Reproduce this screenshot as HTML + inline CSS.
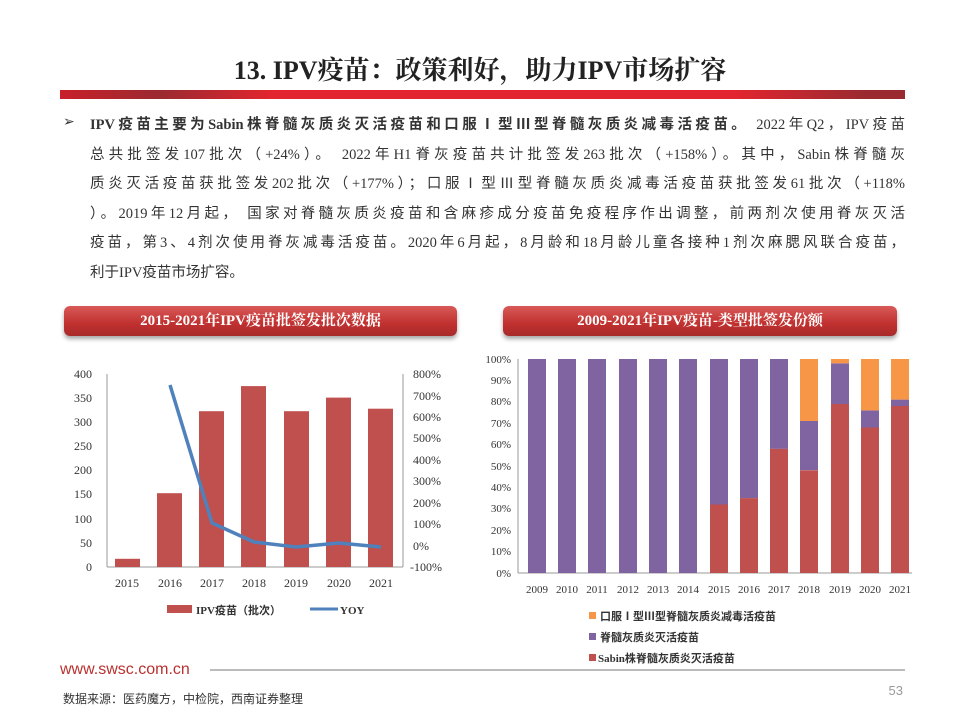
<!DOCTYPE html>
<html><head><meta charset="utf-8"><style>
body{margin:0;background:#fff;}
#p{position:relative;width:960px;height:720px;overflow:hidden;background:#fff;font-family:"Liberation Serif","Noto Serif CJK SC",serif;}
.t{position:absolute;left:0;width:960px;top:50px;text-align:center;font-size:26px;font-weight:bold;color:#222;}
.bar{position:absolute;left:60px;width:845px;top:90px;height:9px;background:linear-gradient(90deg,#c8202a,#9b2a30 12%,#e2252f 25%,#e2252f 80%,#9b2a30 95%);}
.ln{position:absolute;left:90px;width:815px;font-size:14.5px;color:#333;white-space:nowrap;text-align:justify;text-align-last:justify;font-family:"Liberation Serif","Noto Sans CJK SC",sans-serif;}
.hb{position:absolute;height:30px;border-radius:6px;background:linear-gradient(#d85a58,#c0302f 60%,#a82a2a);box-shadow:0 3px 4px rgba(0,0,0,.35);color:#fff;font-weight:bold;font-size:15px;text-align:center;line-height:30px;}
</style></head><body><div id="p">
<div class="t">13. IPV疫苗：政策利好，助力IPV市场扩容</div>
<div class="bar"></div>
<div style="position:absolute;left:63px;top:114px;font-size:14px;color:#333;">➢</div>
<div class="ln" style="top:113px"><b>IPV疫苗主要为Sabin株脊髓灰质炎灭活疫苗和口服Ⅰ型Ⅲ型脊髓灰质炎减毒活疫苗。</b> 2022年Q2，IPV疫苗</div>
<div class="ln" style="top:143px">总共批签发107批次（+24%）。 2022年H1脊灰疫苗共计批签发263批次（+158%）。其中，Sabin株脊髓灰</div>
<div class="ln" style="top:172px">质炎灭活疫苗获批签发202批次（+177%）；口服Ⅰ型Ⅲ型脊髓灰质炎减毒活疫苗获批签发61批次（+118%</div>
<div class="ln" style="top:202px">）。2019年12月起， 国家对脊髓灰质炎疫苗和含麻疹成分疫苗免疫程序作出调整，前两剂次使用脊灰灭活</div>
<div class="ln" style="top:231px">疫苗，第3、4剂次使用脊灰减毒活疫苗。2020年6月起，8月龄和18月龄儿童各接种1剂次麻腮风联合疫苗，</div>
<div class="ln" style="top:261px;text-align-last:left">利于IPV疫苗市场扩容。</div>
<div class="hb" style="left:64px;top:306px;width:393px;">2015-2021年IPV疫苗批签发批次数据</div>
<div class="hb" style="left:503px;top:306px;width:394px;">2009-2021年IPV疫苗-类型批签发份额</div>
<svg style="position:absolute;left:0;top:0" width="960" height="720" font-family="Liberation Serif, Noto Sans CJK SC, serif" font-size="12" fill="#333">
<g stroke="#999" stroke-width="1">
<line x1="107" y1="374" x2="107" y2="567"/><line x1="107" y1="567" x2="403" y2="567"/><line x1="403" y1="374" x2="403" y2="567"/>
<line x1="518" y1="359" x2="518" y2="573"/><line x1="518" y1="573" x2="912" y2="573"/>
</g>
<g fill="#c0504d">
<rect x="115" y="558.8" width="25" height="8.2"/>
<rect x="157" y="493.2" width="25" height="73.8"/>
<rect x="199" y="411.2" width="25" height="155.8"/>
<rect x="241" y="386.1" width="25" height="180.9"/>
<rect x="284" y="411.2" width="25" height="155.8"/>
<rect x="326" y="397.6" width="25" height="169.4"/>
<rect x="368" y="408.7" width="25" height="158.3"/>
</g>
<polyline fill="none" stroke="#4f81bd" stroke-width="3.5" points="170,385 212,523 254,542 296,547 339,543 381,547"/>
<g text-anchor="end">
<text x="92" y="378">400</text><text x="92" y="402">350</text><text x="92" y="426">300</text><text x="92" y="450">250</text><text x="92" y="474">200</text><text x="92" y="498">150</text><text x="92" y="523">100</text><text x="92" y="547">50</text><text x="92" y="571">0</text>
</g>
<g>
<text x="413" y="378">800%</text><text x="413" y="400">700%</text><text x="413" y="421">600%</text><text x="413" y="442">500%</text><text x="413" y="464">400%</text><text x="413" y="485">300%</text><text x="413" y="507">200%</text><text x="413" y="528">100%</text><text x="413" y="550">0%</text><text x="410" y="571">-100%</text>
</g>
<g text-anchor="middle">
<text x="127" y="587">2015</text><text x="170" y="587">2016</text><text x="212" y="587">2017</text><text x="254" y="587">2018</text><text x="296" y="587">2019</text><text x="339" y="587">2020</text><text x="381" y="587">2021</text>
</g>
<rect x="167" y="605" width="25" height="8" fill="#c0504d"/>
<text x="196" y="614" font-weight="bold" font-size="11">IPV疫苗（批次）</text>
<line x1="310" y1="609" x2="338" y2="609" stroke="#4f81bd" stroke-width="3"/>
<text x="340" y="614" font-weight="bold" font-size="11">YOY</text>
<!-- right chart -->
<g id="r"></g>
<g text-anchor="end" font-size="11">
<text x="511" y="363">100%</text><text x="511" y="384">90%</text><text x="511" y="405">80%</text><text x="511" y="427">70%</text><text x="511" y="448">60%</text><text x="511" y="470">50%</text><text x="511" y="491">40%</text><text x="511" y="512">30%</text><text x="511" y="534">20%</text><text x="511" y="555">10%</text><text x="511" y="577">0%</text>
</g>
<g fill="#8064a2">
<rect x="528" y="359" width="18" height="214"/><rect x="558" y="359" width="18" height="214"/><rect x="588" y="359" width="18" height="214"/><rect x="619" y="359" width="18" height="214"/><rect x="649" y="359" width="18" height="214"/><rect x="679" y="359" width="18" height="214"/>
<rect x="710" y="359" width="18" height="145.5"/><rect x="740" y="359" width="18" height="139.1"/><rect x="770" y="359" width="18" height="89.9"/>
<rect x="800" y="421" width="18" height="49.2"/><rect x="831" y="363.3" width="18" height="40.7"/><rect x="861" y="410.4" width="18" height="17.1"/><rect x="891" y="399.6" width="18" height="6.4"/>
</g>
<g fill="#c0504d">
<rect x="710" y="504.5" width="18" height="68.5"/><rect x="740" y="498.1" width="18" height="74.9"/><rect x="770" y="448.9" width="18" height="124.1"/>
<rect x="800" y="470.3" width="18" height="102.7"/><rect x="831" y="404" width="18" height="169"/><rect x="861" y="427.5" width="18" height="145.5"/><rect x="891" y="406" width="18" height="167"/>
</g>
<g fill="#f79646">
<rect x="800" y="359" width="18" height="62"/><rect x="831" y="359" width="18" height="4.3"/><rect x="861" y="359" width="18" height="51.4"/><rect x="891" y="359" width="18" height="40.6"/>
</g>
<g text-anchor="middle" font-size="11">
<text x="537" y="593">2009</text><text x="567" y="593">2010</text><text x="597" y="593">2011</text><text x="628" y="593">2012</text><text x="658" y="593">2013</text><text x="688" y="593">2014</text><text x="719" y="593">2015</text><text x="749" y="593">2016</text><text x="779" y="593">2017</text><text x="809" y="593">2018</text><text x="840" y="593">2019</text><text x="870" y="593">2020</text><text x="900" y="593">2021</text>
</g>
<rect x="589" y="612" width="7" height="7" fill="#f79646"/><text x="600" y="620" font-weight="bold" font-size="11">口服Ⅰ型Ⅲ型脊髓灰质炎减毒活疫苗</text>
<rect x="589" y="633" width="7" height="7" fill="#8064a2"/><text x="600" y="641" font-weight="bold" font-size="11">脊髓灰质炎灭活疫苗</text>
<rect x="589" y="654" width="7" height="7" fill="#c0504d"/><text x="598" y="662" font-weight="bold" font-size="11">Sabin株脊髓灰质炎灭活疫苗</text>
<text x="60" y="674" fill="#b8312f" font-family="Liberation Sans, sans-serif" font-size="16">www.swsc.com.cn</text>
<line x1="210" y1="670" x2="905" y2="670" stroke="#bbb" stroke-width="2"/>
<text x="63" y="703" font-size="12" font-family="Liberation Sans, Noto Sans CJK SC, sans-serif">数据来源：医药魔方，中检院，西南证券整理</text>
<text x="903" y="695" text-anchor="end" fill="#999" font-size="13" font-family="Liberation Sans, sans-serif">53</text>
</svg>
</div></body></html>
